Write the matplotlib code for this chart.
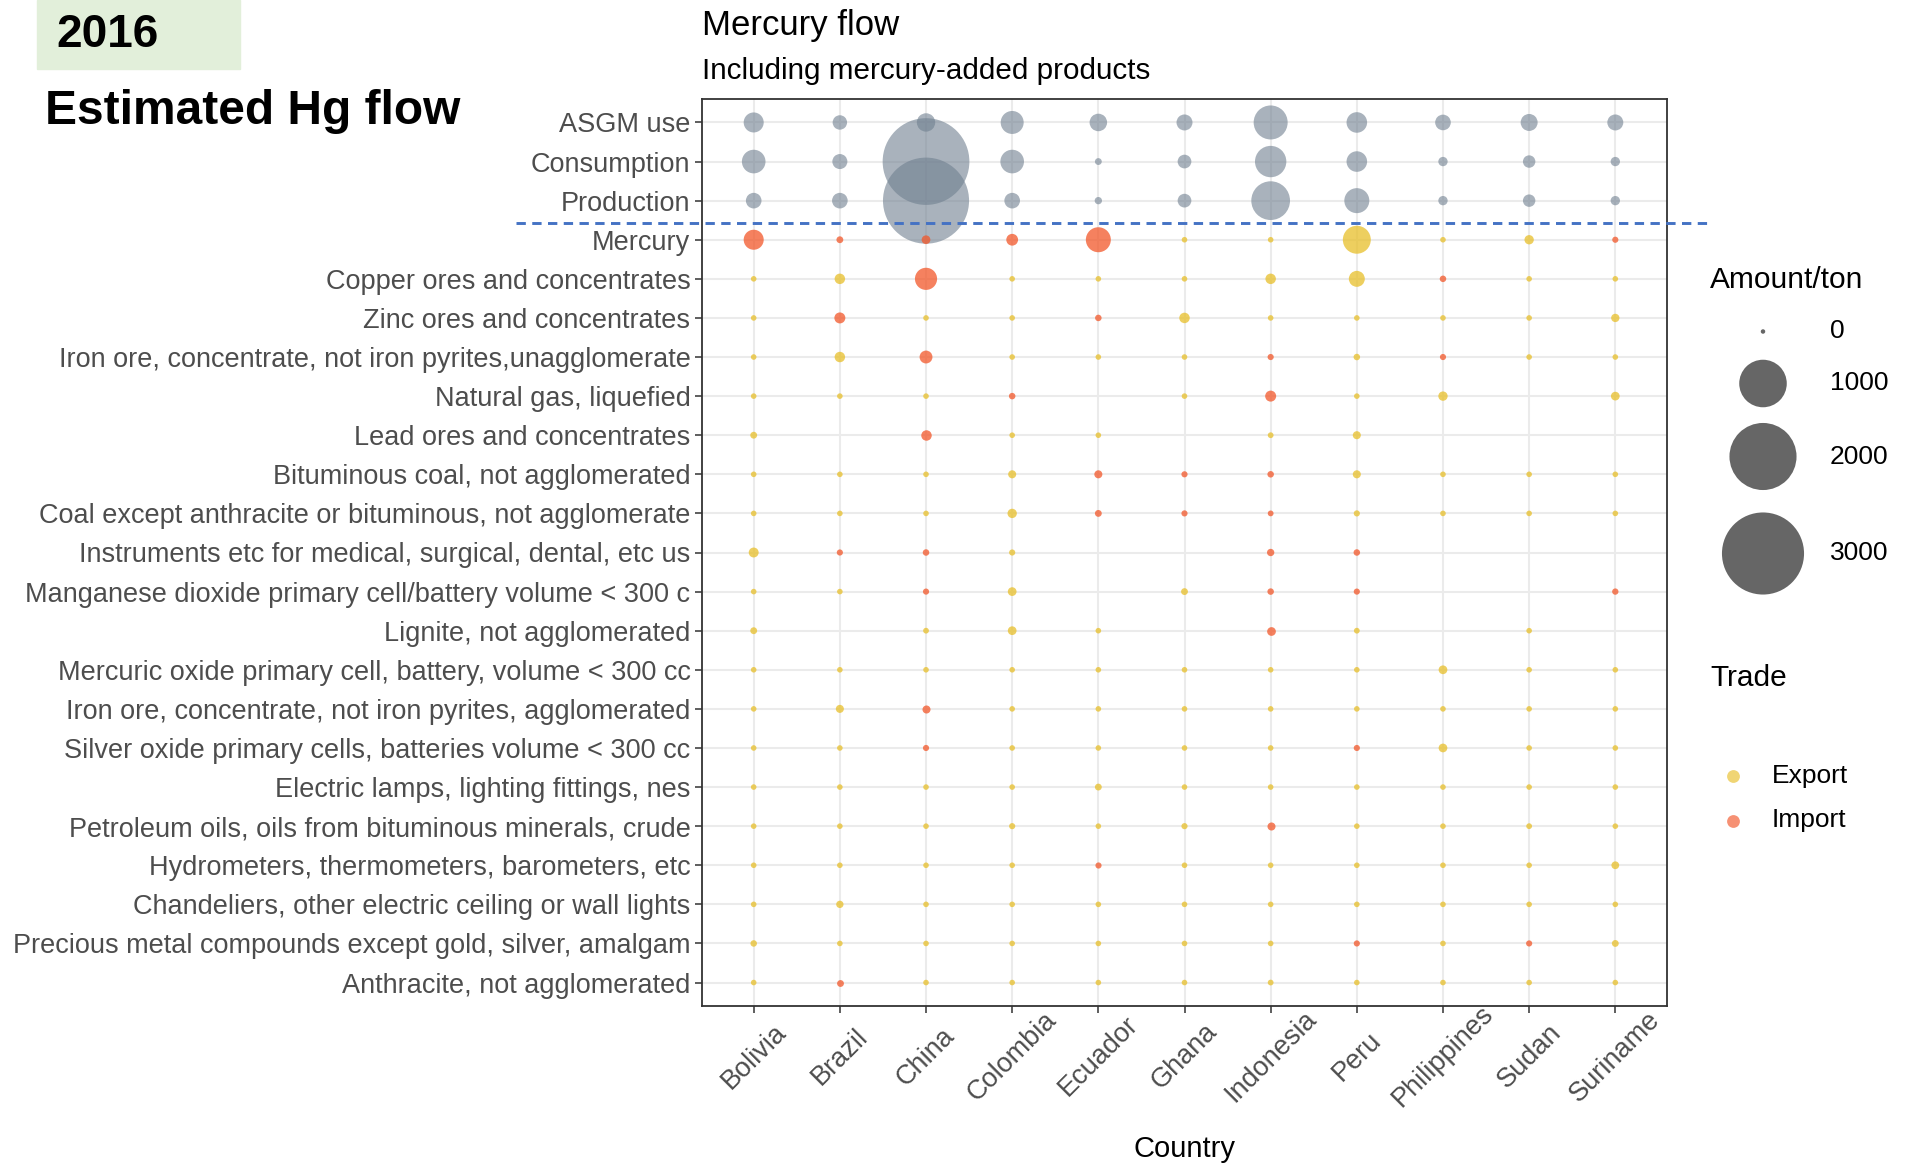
import numpy as np
import matplotlib
matplotlib.use("Agg")
import matplotlib.pyplot as plt
from matplotlib.patches import Rectangle
from matplotlib.transforms import blended_transform_factory, ScaledTranslation

plt.rcParams['font.family'] = ['Liberation Sans', 'DejaVu Sans']

W, H = 1910, 1163

countries = ['Bolivia', 'Brazil', 'China', 'Colombia', 'Ecuador', 'Ghana',
             'Indonesia', 'Peru', 'Philippines', 'Sudan', 'Suriname']

flow_categories = ['ASGM use', 'Consumption', 'Production']
asgm_use = [170, 84, 142, 227, 128, 105, 507, 180, 100, 120, 105]
consumption = [240, 92, 3350, 240, 12, 75, 430, 180, 30, 60, 30]
production = [100, 100, 3300, 100, 15, 75, 660, 270, 30, 60, 30]

trade_categories = [
    'Mercury',
    'Copper ores and concentrates',
    'Zinc ores and concentrates',
    'Iron ore, concentrate, not iron pyrites,unagglomerate',
    'Natural gas, liquefied',
    'Lead ores and concentrates',
    'Bituminous coal, not agglomerated',
    'Coal except anthracite or bituminous, not agglomerate',
    'Instruments etc for medical, surgical, dental, etc us',
    'Manganese dioxide primary cell/battery volume < 300 c',
    'Lignite, not agglomerated',
    'Mercuric oxide primary cell, battery, volume < 300 cc',
    'Iron ore, concentrate, not iron pyrites, agglomerated',
    'Silver oxide primary cells, batteries volume < 300 cc',
    'Electric lamps, lighting fittings, nes',
    'Petroleum oils, oils from bituminous minerals, crude',
    'Hydrometers, thermometers, barometers, etc',
    'Chandeliers, other electric ceiling or wall lights',
    'Precious metal compounds except gold, silver, amalgam',
    'Anthracite, not agglomerated',
]

nan = np.nan
# amount (ton) per trade category (rows) and country (columns)
trade_amount = [
    [170, 12, 25, 53, 270, 5, 5, 340, 5, 30, 8],
    [5, 40, 210, 5, 5, 5, 40, 105, 10, 5, 5],
    [5, 45, 5, 5, 10, 40, 5, 5, 5, 5, 22],
    [5, 40, 65, 5, 5, 5, 8, 10, 8, 5, 5],
    [5, 5, 5, 10, nan, 5, 45, 5, 30, nan, 25],
    [12, nan, 40, 5, 5, nan, 6, 20, nan, nan, nan],
    [5, 5, 5, 20, 20, 8, 10, 20, 5, 5, 5],
    [5, 5, 5, 30, 12, 8, 6, 8, 5, 5, 5],
    [35, 8, 10, 8, nan, nan, 15, 10, nan, nan, nan],
    [5, 5, 8, 25, nan, 12, 10, 8, nan, nan, 9],
    [12, nan, 6, 25, 5, nan, 25, 6, nan, 5, nan],
    [5, 5, 5, 5, 5, 5, 5, 5, 25, 5, 5],
    [5, 20, 20, 5, 5, 5, 5, 5, 5, 5, 5],
    [5, 5, 8, 5, 5, 5, 5, 8, 25, 5, 5],
    [5, 5, 5, 5, 12, 5, 5, 5, 5, 5, 5],
    [5, 5, 5, 8, 5, 8, 20, 5, 5, 6, 5],
    [5, 5, 5, 5, 8, 5, 5, 5, 5, 5, 18],
    [5, 15, 5, 5, 5, 5, 5, 5, 5, 5, 5],
    [10, 5, 5, 5, 5, 5, 5, 8, 5, 8, 12],
    [5, 12, 5, 5, 5, 5, 6, 5, 5, 5, 5],
]
# E = Export, I = Import
trade_type = [
    'IIIIIEEEEEI',
    'EEIEEEEEIEE',
    'EIEEIEEEEEE',
    'EEIEEEIEIEE',
    'EEEIEEIEEEE',
    'EEIEEEEEEEE',
    'EEEEIIIEEEE',
    'EEEEIIIEEEE',
    'EIIEEEIIEEE',
    'EEIEEEIIEEI',
    'EEEEEEIEEEE',
    'EEEEEEEEEEE',
    'EEIEEEEEEEE',
    'EEIEEEEIEEE',
    'EEEEEEEEEEE',
    'EEEEEEIEEEE',
    'EEEEIEEEEEE',
    'EEEEEEEEEEE',
    'EEEEEEEIEIE',
    'EIEEEEEEEEE',
]

legend_sizes = [0, 1000, 2000, 3000]
trade_labels = ['Export', 'Import']

GRAY = '#708090'
EXPORT = '#E8BF2A'
IMPORT = '#F2572A'


def area(v):
    return 10.4 + 1.161 * np.asarray(v, dtype=float)


fig = plt.figure(figsize=(W / 100, H / 100), dpi=100)
fig.patch.set_facecolor('white')

ax = fig.add_axes([702 / W, 1 - 1006 / H, (1667 - 702) / W, (1006 - 99) / H])
x = np.arange(len(countries))

for i, vals in enumerate([asgm_use, consumption, production]):
    ax.scatter(x, np.full(len(x), i), s=area(vals), color=GRAY, alpha=0.6,
               linewidths=0, zorder=3)

for j, (vals, types) in enumerate(zip(trade_amount, trade_type)):
    vals = np.asarray(vals, dtype=float)
    tarr = np.array(list(types))
    yy = np.full(len(x), 3 + j)
    for code, col in (('E', EXPORT), ('I', IMPORT)):
        m = (tarr == code) & ~np.isnan(vals)
        ax.scatter(x[m], yy[m], s=area(vals[m]), color=col, alpha=0.75,
                   linewidths=0, zorder=4)

ylabels = flow_categories + trade_categories
ax.set_yticks(np.arange(len(ylabels)))
ax.set_yticklabels(ylabels)
ax.set_xticks(x)
ax.set_xticklabels(countries, rotation=45, ha='center', va='center',
                   rotation_mode='anchor')
shift = ScaledTranslation(5 / 100, 0, fig.dpi_scale_trans)
for lab in ax.get_xticklabels():
    lab.set_transform(lab.get_transform() + shift)
ax.set_xlim(-0.6, len(countries) - 0.4)
ax.set_ylim(len(ylabels) - 0.4, -0.6)

ax.grid(True, color='#EBEBEB', lw=1.5, zorder=0)
ax.set_axisbelow(True)
for sp in ax.spines.values():
    sp.set_color('#333333')
    sp.set_linewidth(1.3)
ax.tick_params(axis='both', length=5, width=1.1, color='#333333',
               labelcolor='#4D4D4D', labelsize=19.5)
ax.tick_params(axis='y', pad=3.3)
ax.tick_params(axis='x', pad=31.5)

trans = blended_transform_factory(ax.transAxes, ax.transData)
ax.plot([-0.193, 1.0415], [2.58, 2.58], transform=trans, clip_on=False,
        color='#4472C4', lw=2.1, dashes=(3.2, 2.2), zorder=6)


def fx(px):
    return px / W


def fy(py):
    return 1 - py / H


fig.text(fx(702), fy(26), 'Mercury flow', fontsize=25, ha='left', va='center')
fig.text(fx(702), fy(71), 'Including mercury-added products', fontsize=21.3,
         ha='left', va='center')
fig.text(fx(1184), fy(1149), 'Country', fontsize=21, ha='center', va='center')

fig.patches.append(Rectangle((fx(37), fy(69)), (240 - 37) / W, 69 / H,
                             transform=fig.transFigure, color='#E2EFDA',
                             zorder=0))
fig.text(fx(56), fy(35), '2016', fontsize=33, fontweight='bold',
         ha='left', va='center')
fig.text(fx(45), fy(111), 'Estimated Hg flow', fontsize=34.5,
         fontweight='bold', ha='left', va='center')

# legends drawn in a pixel-space overlay
lax = fig.add_axes([0, 0, 1, 1], zorder=10)
lax.set_xlim(0, W)
lax.set_ylim(H, 0)
lax.axis('off')
lax.patch.set_alpha(0)

lax.text(1710, 280.5, 'Amount/ton', fontsize=21.5, ha='left', va='center')
leg_y = [331.5, 383.5, 456.5, 553.5]
lax.scatter([1763] * len(legend_sizes), leg_y, s=area(legend_sizes),
            color='black', alpha=0.6, linewidths=0)
for yv, lab in zip(leg_y, legend_sizes):
    lax.text(1830, yv, str(lab), fontsize=19, ha='left', va='center')

lax.text(1710, 678.5, 'Trade', fontsize=21.5, ha='left', va='center')
for yv, lab, col in zip([775.5, 820.5], trade_labels, [EXPORT, IMPORT]):
    lax.scatter([1733], [yv], s=85, color=col, alpha=0.65, linewidths=0)
    lax.text(1772, yv, lab, fontsize=19, ha='left', va='center')

fig.savefig('out.png', dpi=100)
